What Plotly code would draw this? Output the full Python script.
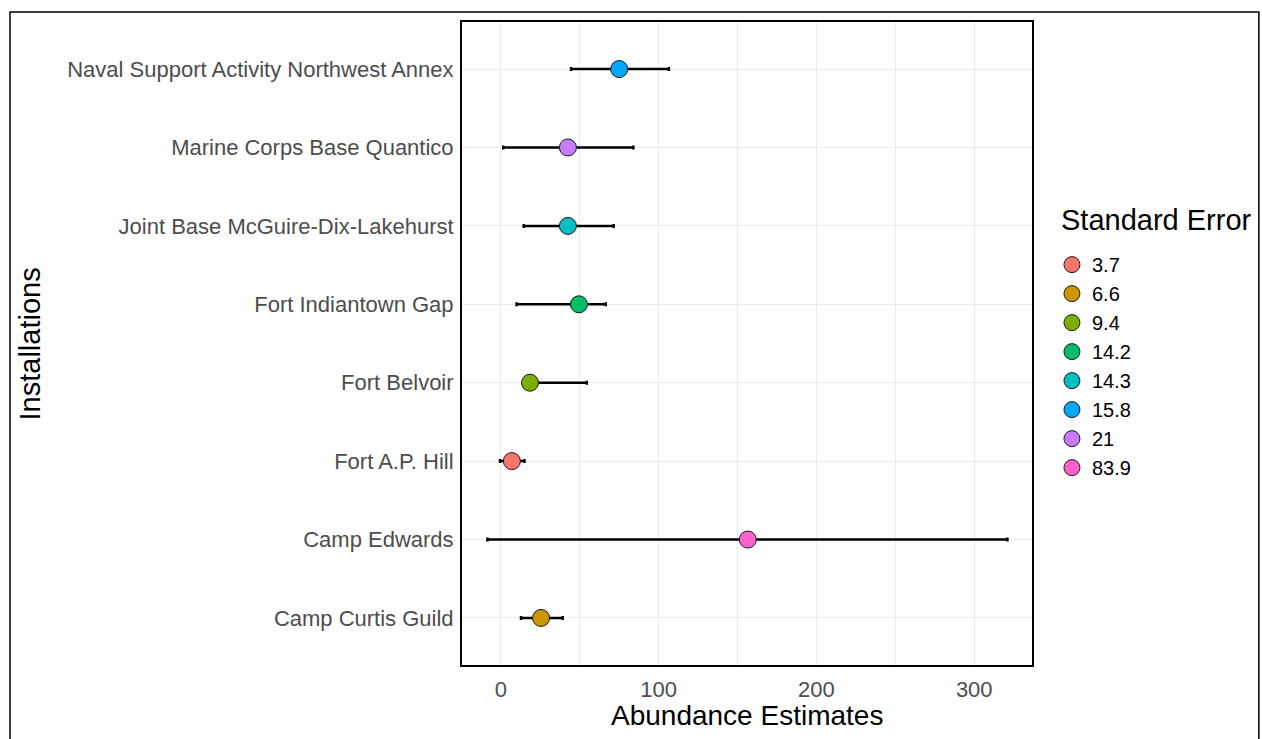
import plotly.graph_objects as go

# Data (bottom to top order on the y axis)
installations = [
    "Camp Curtis Guild",
    "Camp Edwards",
    "Fort A.P. Hill",
    "Fort Belvoir",
    "Fort Indiantown Gap",
    "Joint Base McGuire-Dix-Lakehurst",
    "Marine Corps Base Quantico",
    "Naval Support Activity Northwest Annex",
]
estimates = [25.5, 156.5, 7.0, 18.5, 49.5, 42.5, 42.5, 75.0]
lower = [12.8, -8.5, -0.5, 17.0, 10.0, 14.5, 1.5, 44.5]
upper = [39.2, 321.0, 15.0, 54.5, 66.5, 71.5, 84.0, 106.5]
std_err = ["6.6", "83.9", "3.7", "9.4", "14.2", "14.3", "21", "15.8"]

# legend order and ggplot hue colours
se_levels = ["3.7", "6.6", "9.4", "14.2", "14.3", "15.8", "21", "83.9"]
se_colors = ["#F8766D", "#CD9600", "#7CAE00", "#00BE67", "#00BFC4", "#00A9FF", "#C77CFF", "#FF61CC"]

x_ticks = [0, 100, 200, 300]

FONT = "Arial, 'Liberation Sans', sans-serif"

fig = go.Figure()

for lvl, col in zip(se_levels, se_colors):
    i = std_err.index(lvl)
    fig.add_trace(go.Scatter(
        x=[estimates[i]],
        y=[installations[i]],
        mode="markers",
        name=lvl,
        marker=dict(size=17, color=col, line=dict(color="#1a1a1a", width=1)),
        error_x=dict(
            type="data",
            symmetric=False,
            array=[upper[i] - estimates[i]],
            arrayminus=[estimates[i] - lower[i]],
            color="black",
            thickness=2.5,
            width=2,
        ),
    ))

fig.update_layout(
    width=1262,
    height=739,
    paper_bgcolor="white",
    plot_bgcolor="white",
    margin=dict(l=462, r=230, t=22, b=74),
    font=dict(family=FONT, color="#4D4D4D", size=22),
    showlegend=True,
    legend=dict(
        font=dict(size=20, color="black", family=FONT),
        x=1.035, xanchor="left",
        y=0.653, yanchor="top",
        bgcolor="rgba(0,0,0,0)",
        tracegroupgap=0,
    ),
    xaxis=dict(
        range=[-24.6, 336.6],
        tickvals=x_ticks,
        ticktext=[str(v) for v in x_ticks],
        showgrid=True,
        gridcolor="#EBEBEB",
        gridwidth=1,
        minor=dict(showgrid=True, gridcolor="#EBEBEB", gridwidth=1, dtick=50, tick0=0),
        zeroline=False,
        showline=True,
        linecolor="black",
        linewidth=2,
        mirror=True,
        ticks="",
        ticklabelstandoff=4,
        tickfont=dict(size=22, color="#4D4D4D", family=FONT),
    ),
    yaxis=dict(
        type="category",
        categoryorder="array",
        categoryarray=installations,
        range=[-0.6, 7.6],
        showgrid=True,
        gridcolor="#EBEBEB",
        gridwidth=1,
        zeroline=False,
        showline=True,
        linecolor="black",
        linewidth=2,
        mirror=True,
        ticks="",
        ticklabelstandoff=2,
        tickfont=dict(size=22, color="#4D4D4D", family=FONT),
    ),
    annotations=[
        dict(text="Abundance Estimates", xref="paper", yref="paper",
             x=0.5, y=-0.079, xanchor="center", yanchor="middle", showarrow=False,
             font=dict(size=28, color="black", family=FONT)),
        dict(text="Installations", xref="paper", yref="paper",
             x=-0.758, y=0.5, xanchor="center", yanchor="middle", showarrow=False,
             textangle=-90, font=dict(size=29, color="black", family=FONT)),
        dict(text="Standard Error", xref="paper", yref="paper",
             x=1.047, y=0.692, xanchor="left", yanchor="middle", showarrow=False,
             font=dict(size=29, color="black", family=FONT)),
    ],
    shapes=[
        dict(type="rect", xref="paper", yref="paper",
             x0=-0.793, x1=1.398, y0=-0.2, y1=1.0155,
             line=dict(color="black", width=1.5), fillcolor="rgba(0,0,0,0)", layer="below"),
    ],
)

fig.write_html(
    "out.html",
    config={"displayModeBar": False},
    post_script="document.body.style.margin='0px';document.body.style.overflow='hidden';",
)
